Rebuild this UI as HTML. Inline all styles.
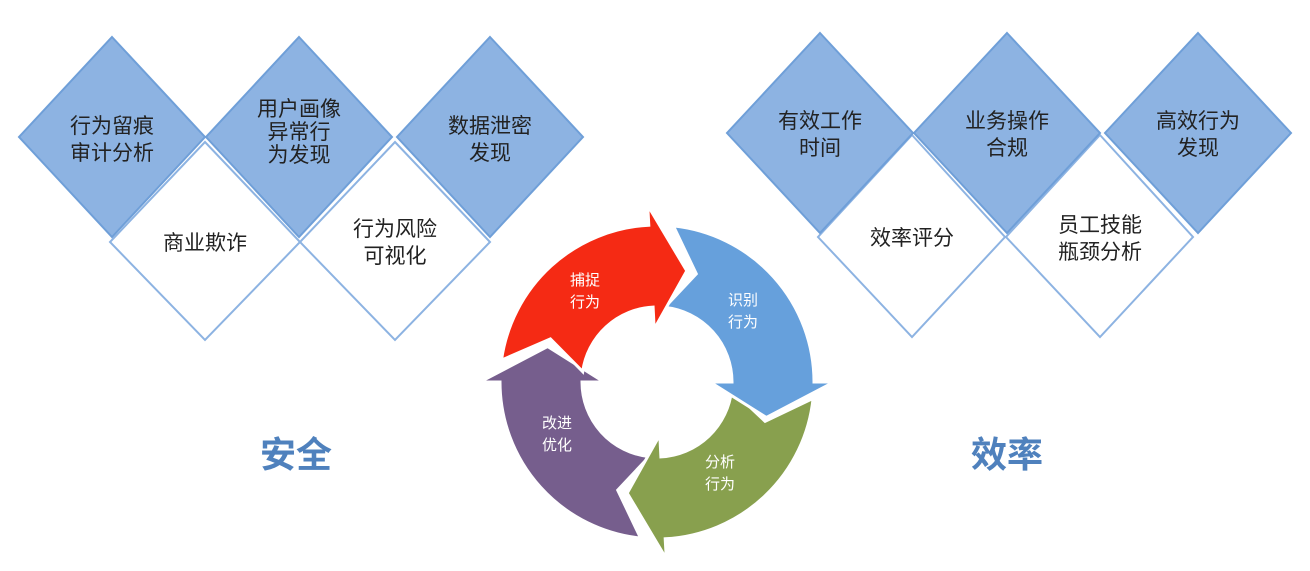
<!DOCTYPE html>
<html><head><meta charset="utf-8"><style>
html,body{margin:0;padding:0;background:#fff;}
svg{display:block;}
text{font-family:"Liberation Sans","Noto Sans CJK SC",sans-serif;}
</style></head><body>
<svg id="s" width="1310" height="571" viewBox="0 0 1310 571" xmlns="http://www.w3.org/2000/svg">
<g fill="#fff" stroke="#8db3e2" stroke-width="2">
<polygon points="205,142 300,242 205,340 110,242"/>
<polygon points="395,142 490,242 395,340 300,242"/>
<polygon points="912,135 1005,237 912,337 818,237"/>
<polygon points="1100,135 1193,237 1100,337 1006,237"/>
</g>
<g fill="#8db3e2" stroke="#6f9fd8" stroke-width="2">
<polygon points="112,37 205,137 112,237 19,137"/>
<polygon points="299,37 392,137 299,237 206,137"/>
<polygon points="490,37 583,137 490,237 397,137"/>
<polygon points="820,33 913,133 820,233 727,133"/>
<polygon points="1007,33 1100,133 1007,233 914,133"/>
<polygon points="1198,33 1291,133 1198,233 1105,133"/>
</g>
<g font-size="21" fill="#222" text-anchor="middle">
<text x="112" y="133">行为留痕</text><text x="112" y="160">审计分析</text>
<text x="299" y="116">用户画像</text><text x="299" y="139">异常行</text><text x="299" y="162">为发现</text>
<text x="490" y="133">数据泄密</text><text x="490" y="160">发现</text>
<text x="205" y="250">商业欺诈</text>
<text x="395" y="236">行为风险</text><text x="395" y="263">可视化</text>
<text x="820" y="128">有效工作</text><text x="820" y="155">时间</text>
<text x="1007" y="128">业务操作</text><text x="1007" y="155">合规</text>
<text x="1198" y="128">高效行为</text><text x="1198" y="155">发现</text>
<text x="912" y="245">效率评分</text>
<text x="1100" y="232">员工技能</text><text x="1100" y="259">瓶颈分析</text>
</g>
<g font-size="36" font-weight="bold" fill="#4f81bd" text-anchor="middle">
<text x="296" y="467">安全</text><text x="1007" y="467">效率</text>
</g>
<g id="cyc" stroke="#fff" stroke-width="3" stroke-linejoin="miter"></g>
<g font-size="15" fill="#fff" text-anchor="middle">
<text x="585" y="285">捕捉</text><text x="585" y="307">行为</text>
<text x="743" y="305">识别</text><text x="743" y="327">行为</text>
<text x="720" y="467">分析</text><text x="720" y="489">行为</text>
<text x="557" y="428">改进</text><text x="557" y="450">优化</text>
</g>
</svg>
<script>
(function(){
var cx=657,cy=382,R=157,r=75,RA=177,rA=53,RM=115;
function p(rad,deg){var a=deg*Math.PI/180;return (cx+rad*Math.cos(a)).toFixed(1)+","+(cy+rad*Math.sin(a)).toFixed(1);}
function seg(t1,t2,col){
 var d="M"+p(R,t1)+" A"+R+","+R+" 0 0 1 "+p(R,t2)+" L"+p(RA,t2)+" L"+p(RM,t2+18)+" L"+p(rA,t2)+" L"+p(r,t2)+" A"+r+","+r+" 0 0 0 "+p(r,t1)+" L"+p(RM,t1+14)+" Z";
 return '<path d="'+d+'" fill="'+col+'"/>';
}
var h=seg(96,180,"#765e8d")+seg(6,87,"#88a04e")+seg(276,360,"#66a0dc")+seg(188,267,"#f52a14");
document.getElementById("cyc").innerHTML=h;
})();
</script>
</body></html>
